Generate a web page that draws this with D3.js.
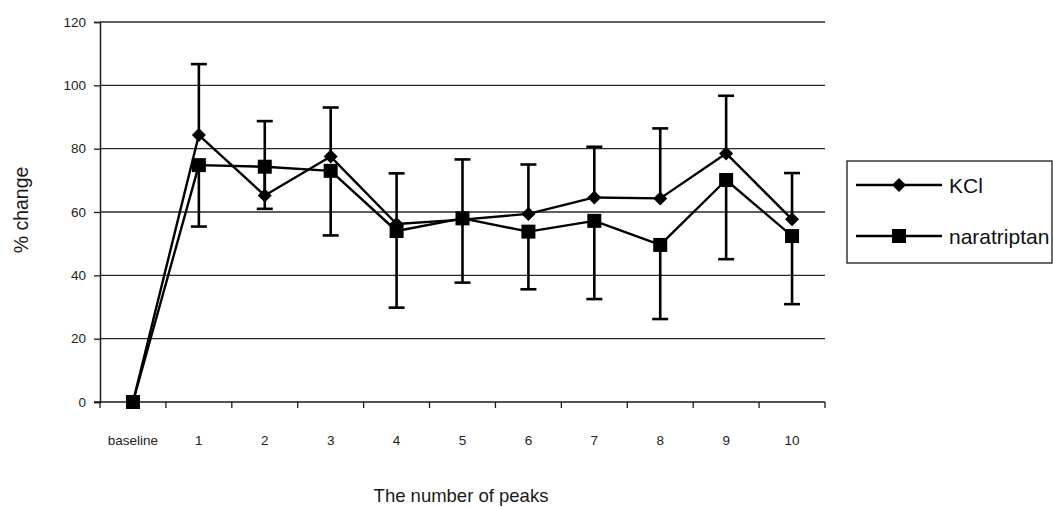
<!DOCTYPE html>
<html>
<head>
<meta charset="utf-8">
<script src="https://cdn.jsdelivr.net/npm/d3@7"></script>
<style>
  html, body { margin: 0; padding: 0; background: #fff; }
  svg { display: block; font-family: "Liberation Sans", Arial, sans-serif; }
</style>
</head>
<body>
<svg id="chart" width="1053" height="507"></svg>
<script>
// Categories along the x axis
const categories = ["baseline", "1", "2", "3", "4", "5", "6", "7", "8", "9", "10"];

// KCl: mean % change and upper error
const kclValues = [0, 84.3, 65.2, 77.5, 56.2, 57.6, 59.4, 64.6, 64.3, 78.5, 57.7];
const kclErrorPlus = [0, 22.4, 23.5, 15.5, 16.0, 19.0, 15.6, 16.0, 22.1, 18.2, 14.6];

// naratriptan: mean % change and lower error
const naraValues = [0, 74.8, 74.3, 73.0, 54.0, 58.0, 53.8, 57.2, 49.6, 70.1, 52.4];
const naraErrorMinus = [0, 19.4, 13.3, 20.4, 24.2, 20.3, 18.2, 24.7, 23.4, 25.0, 21.5];

const yTicks = [0, 20, 40, 60, 80, 100, 120];
const seriesNames = ["KCl", "naratriptan"];

const svg = d3.select("#chart");
const plot = { left: 100, right: 825, top: 22, bottom: 402 };

const x = d3.scaleBand().domain(categories).range([plot.left, plot.right]);
const y = d3.scaleLinear().domain([0, 120]).range([plot.bottom, plot.top]);
const cx = c => x(c) + x.bandwidth() / 2;

// Horizontal gridlines
svg.append("g").selectAll("line").data(yTicks.filter(t => t > 0)).join("line")
  .attr("x1", plot.left).attr("x2", plot.right)
  .attr("y1", d => y(d)).attr("y2", d => y(d))
  .attr("stroke", "#2a2a2a").attr("stroke-width", 1.3);

// Y axis
const yAxis = svg.append("g")
  .attr("transform", `translate(${plot.left},0)`)
  .call(d3.axisLeft(y).tickValues(yTicks).tickSize(6).tickPadding(8).tickFormat(d3.format("d")));
yAxis.select(".domain").attr("stroke", "#1a1a1a").attr("stroke-width", 1.5);
yAxis.selectAll(".tick line").attr("stroke", "#1a1a1a").attr("stroke-width", 1.3);
yAxis.selectAll(".tick text").attr("font-size", 13.5).attr("fill", "#222")
  .attr("font-family", "'Liberation Sans', Arial, sans-serif");

// X axis: ticks at band boundaries, labels centred in each band
const xAxis = svg.append("g").attr("transform", `translate(0,${plot.bottom})`);
xAxis.append("line")
  .attr("x1", plot.left - 6).attr("x2", plot.right)
  .attr("stroke", "#1a1a1a").attr("stroke-width", 1.5);
const boundaries = categories.map(c => x(c)).concat([plot.right]);
xAxis.selectAll("line.tick").data(boundaries).join("line")
  .attr("class", "tick")
  .attr("x1", d => d).attr("x2", d => d)
  .attr("y1", 0).attr("y2", 6)
  .attr("stroke", "#1a1a1a").attr("stroke-width", 1.3);
xAxis.selectAll("text").data(categories).join("text")
  .attr("x", d => cx(d)).attr("y", 43)
  .attr("text-anchor", "middle")
  .attr("font-size", 13.5).attr("fill", "#222")
  .text(d => d);

// Axis titles
svg.append("text")
  .attr("x", 461).attr("y", 502)
  .attr("text-anchor", "middle").attr("font-size", 18.5).attr("fill", "#1a1a1a")
  .text("The number of peaks");
svg.append("text")
  .attr("transform", "translate(28,210) rotate(-90)")
  .attr("text-anchor", "middle").attr("font-size", 19.5).attr("fill", "#1a1a1a")
  .text("% change");

// Error bars: KCl upward, naratriptan downward
function errorBars(values, errs, dir) {
  const g = svg.append("g").attr("stroke", "#000").attr("stroke-width", 2.6);
  const idx = d3.range(categories.length).filter(i => errs[i] > 0);
  g.selectAll("line.v").data(idx).join("line")
    .attr("x1", i => cx(categories[i])).attr("x2", i => cx(categories[i]))
    .attr("y1", i => y(values[i])).attr("y2", i => y(values[i] + dir * errs[i]));
  g.selectAll("line.cap").data(idx).join("line")
    .attr("x1", i => cx(categories[i]) - 8).attr("x2", i => cx(categories[i]) + 8)
    .attr("y1", i => y(values[i] + dir * errs[i])).attr("y2", i => y(values[i] + dir * errs[i]));
}
errorBars(kclValues, kclErrorPlus, 1);
errorBars(naraValues, naraErrorMinus, -1);

// Series lines
const line = d3.line().x((d, i) => cx(categories[i])).y(d => y(d));
[kclValues, naraValues].forEach(vals => {
  svg.append("path").datum(vals)
    .attr("d", line).attr("fill", "none")
    .attr("stroke", "#000").attr("stroke-width", 2.4).attr("stroke-linejoin", "round");
});

// Marker shapes
const diamondPath = r => `M0,${-r}L${r},0L0,${r}L${-r},0Z`;
const squarePath = s => `M${-s / 2},${-s / 2}h${s}v${s}h${-s}Z`;

svg.append("g").selectAll("path").data(kclValues).join("path")
  .attr("transform", (d, i) => `translate(${cx(categories[i])},${y(d)})`)
  .attr("d", diamondPath(7)).attr("fill", "#000");
svg.append("g").selectAll("path").data(naraValues).join("path")
  .attr("transform", (d, i) => `translate(${cx(categories[i])},${y(d)})`)
  .attr("d", squarePath(14)).attr("fill", "#000");

// Legend
const legend = svg.append("g");
legend.append("rect")
  .attr("x", 847).attr("y", 161).attr("width", 205).attr("height", 102)
  .attr("fill", "#fff").attr("stroke", "#1a1a1a").attr("stroke-width", 1.3);
const legendRows = [
  { name: seriesNames[0], y: 185, marker: diamondPath(7) },
  { name: seriesNames[1], y: 236, marker: squarePath(14) }
];
legendRows.forEach(r => {
  legend.append("line").attr("x1", 856).attr("x2", 942).attr("y1", r.y).attr("y2", r.y)
    .attr("stroke", "#000").attr("stroke-width", 2.4);
  legend.append("path").attr("transform", `translate(899,${r.y})`).attr("d", r.marker).attr("fill", "#000");
  legend.append("text").attr("x", 949).attr("y", r.y + 7.5)
    .attr("font-size", 21).attr("fill", "#111").text(r.name);
});
</script>
</body>
</html>
